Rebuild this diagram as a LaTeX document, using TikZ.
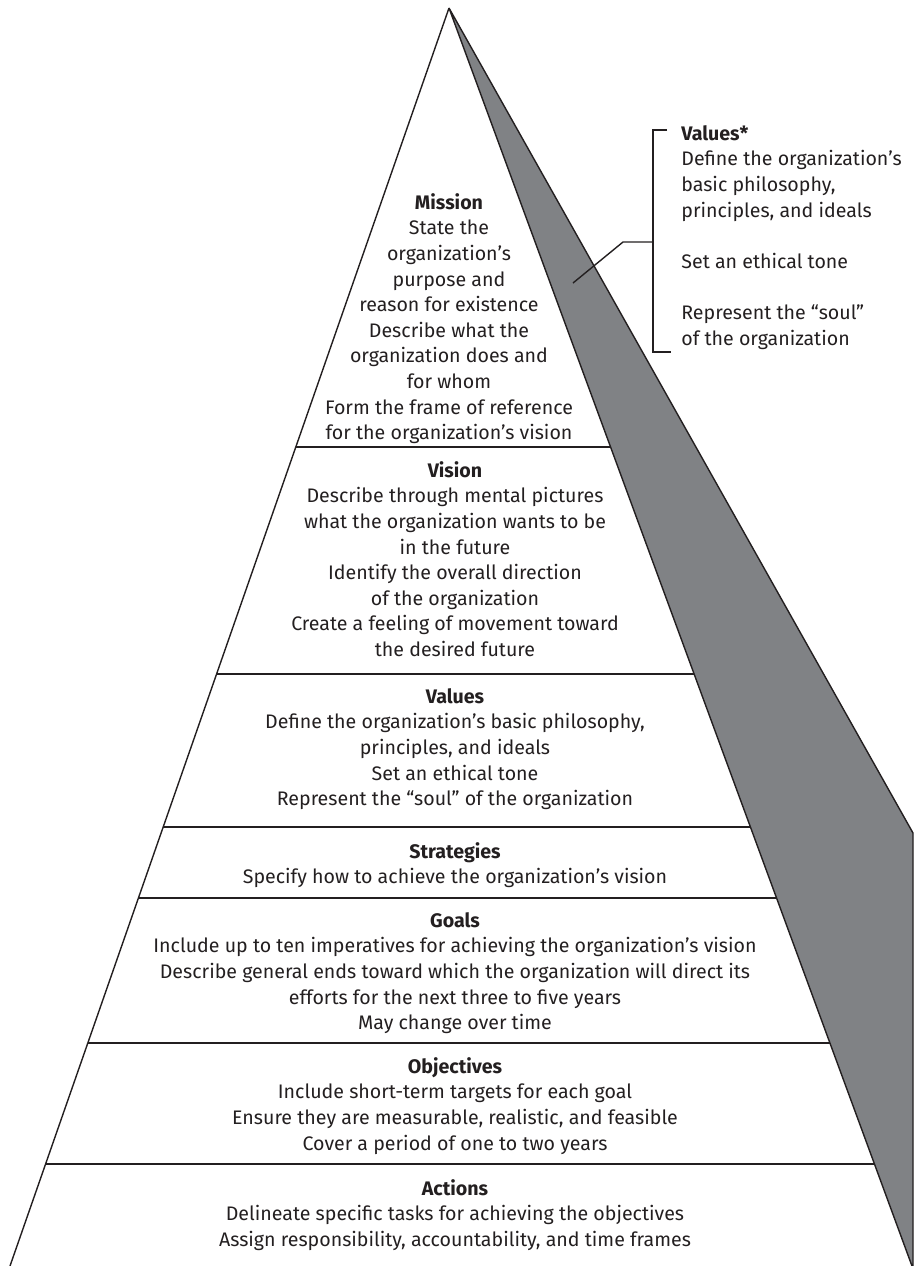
\documentclass[tikz,border=0pt]{standalone}
\usepackage{fontspec}
\setmainfont{Fira Sans}
\usetikzlibrary{calc}
\definecolor{wedge}{RGB}{128,130,133}
\definecolor{ink}{RGB}{35,31,32}
\begin{document}
\begin{tikzpicture}[x=0.5pt,y=-0.5pt,
  sec/.style={anchor=north, align=center, inner sep=0pt, text=ink, font=\fontsize{9.8}{12.8}\selectfont},
  side/.style={anchor=north west, align=left, inner sep=0pt, text=ink, font=\fontsize{9.8}{12.8}\selectfont},
  edge/.style={draw=ink, line width=0.7pt},
  divider/.style={draw=ink, line width=0.7pt}]
\useasboundingbox (0,0) rectangle (915,1266);
\coordinate (apex) at (449,8);
\coordinate (BL) at (10,1266);
\coordinate (BR) at (912,1266);
\coordinate (OC) at (913,833);
\coordinate (OB) at (913,1266);
% gray wedge
\fill[wedge] (apex) -- (OC) -- (OB) -- (BR) -- cycle;
\draw[edge, line join=miter] (BR) -- (apex) -- (OC) -- (OB);
\draw[edge] (apex) -- (BL);
% dividers
\foreach \yy/\nm in {447/d1,674/d2,827/d3,898/d4,1043/d5,1164/d6}{
  \coordinate (\nm L) at ($(apex)!{(\yy-8)/1258}!(BL)$);
  \coordinate (\nm R) at ($(apex)!{(\yy-8)/1258}!(BR)$);
  \draw[divider] (\nm L) -- (\nm R);
}
% section texts
\node[sec] (mission) at (449,193) {\textbf{Mission}\\State the\\organization’s\\purpose and\\reason for existence\\Describe what the\\organization does and\\for whom\\Form the frame of reference\\for the organization’s vision};
\node[sec] (vision) at (455,461) {\textbf{Vision}\\Describe through mental pictures\\what the organization wants to be\\in the future\\Identify the overall direction\\of the organization\\Create a feeling of movement toward\\the desired future};
\node[sec] (values) at (455,688) {\textbf{Values}\\Define the organization’s basic philosophy,\\principles, and ideals\\Set an ethical tone\\Represent the “soul” of the organization};
\node[sec] (strategies) at (455,842) {\textbf{Strategies}\\Specify how to achieve the organization’s vision};
\node[sec] (goals) at (455,912) {\textbf{Goals}\\Include up to ten imperatives for achieving the organization’s vision\\Describe general ends toward which the organization will direct its\\efforts for the next three to five years\\May change over time};
\node[sec] (objectives) at (455,1057) {\textbf{Objectives}\\Include short-term targets for each goal\\Ensure they are measurable, realistic, and feasible\\Cover a period of one to two years};
\node[sec] (actions) at (455,1179) {\textbf{Actions}\\Delineate specific tasks for achieving the objectives\\Assign responsibility, accountability, and time frames};
% values* callout
\node[side] (valstar) at (681,125) {\textbf{Values*}\\Define the organization’s\\basic philosophy,\\principles, and ideals\\[12.8pt]Set an ethical tone\\[12.8pt]Represent the “soul”\\of the organization};
\coordinate (bt1) at (667,130);
\coordinate (bt0) at (653,130);
\coordinate (bb0) at (653,352);
\coordinate (bb1) at (671,352);
\coordinate (bm) at (653,242);
\coordinate (bk) at (623,242);
\coordinate (bp) at (573,283);
\draw[edge] (bt1) -- (bt0) -- (bb0) -- (bb1);
\draw[edge] (bm) -- (bk) -- (bp);
\end{tikzpicture}
\end{document}
